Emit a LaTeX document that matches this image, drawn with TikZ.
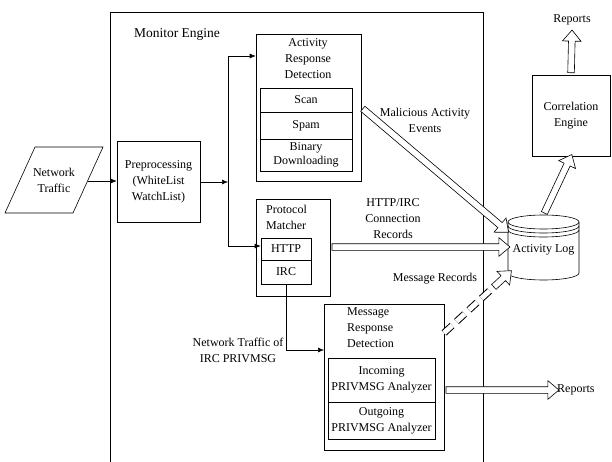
\documentclass[tikz,border=0pt]{standalone}
\usepackage{fontspec}
\setmainfont{Liberation Serif}
\usepackage{tikz}
\usetikzlibrary{positioning, calc, arrows.meta, shapes.arrows}

\tikzset{
  box/.style={draw, line width=0.6pt, inner sep=0pt, align=center},
  lbl/.style={align=center, inner sep=0pt},
  flow/.style={line width=0.6pt, -{Latex[length=6pt,width=5pt]}},
  fatshape/.style={single arrow, draw, fill=white, line width=0.6pt, inner xsep=0pt,
    inner ysep=3pt, single arrow head extend=6pt, single arrow tip angle=80},
}
\newcommand{\fatarrow}[3][]{%
  \path let \p1=($#3-#2$), \n1={atan2(\y1,\x1)}, \n2={veclen(\x1,\y1)} in
    node[fatshape, rotate=\n1, minimum height=\n2, #1] at ($#2!0.5!#3$) {};}

\begin{document}
\begin{tikzpicture}[x=1pt, y=-1pt, font=\fontsize{12}{16}\selectfont]
\useasboundingbox (0,0) rectangle (612,462);

% monitor engine frame
\draw[line width=0.6pt] (110,462) -- (110,12) -- (483,12) -- (483,462);
\node[lbl, font=\fontsize{13.5}{16}\selectfont] (mon) at (177,34) {Monitor Engine};

% input
\draw[line width=0.6pt] (35,147) -- (103,147) -- (73,213) -- (5,213) -- cycle;
\node[lbl] (net) at (54,180) {Network\\Traffic};
\coordinate (netR) at (88,181);
\node[box, minimum width=83, minimum height=81] (pre) at (158.5,181.5) {Preprocessing\\(WhiteList\\WatchList)};

% activity response detection
\node[box, minimum width=105, minimum height=147] (act) at (308.5,107.5) {};
\node[lbl] (actT) at (308,59) {Activity\\Response\\Detection};
\node[box, minimum width=92, minimum height=24] (scan) at (306,100) {Scan};
\node[box, minimum width=92, minimum height=27] (spam) at (306,125.5) {Spam};
\node[box, minimum width=92, minimum height=32, font=\fontsize{12}{14}\selectfont] (bin) at (306,155) {Binary\\Downloading};

% protocol matcher
\node[box, minimum width=74, minimum height=97] (proto) at (293,247.5) {};
\node[lbl, anchor=west, align=left] (protoT) at (266,217) {Protocol\\Matcher};
\node[box, minimum width=50, minimum height=22] (http) at (286,249) {HTTP};
\node[box, minimum width=50, minimum height=24] (irc) at (286,272) {IRC};

% message response detection
\node[box, minimum width=120, minimum height=146] (msg) at (384,377) {};
\node[lbl, anchor=west, align=left] (msgT) at (347,328) {Message\\Response\\Detection};
\node[box, minimum width=107, minimum height=44] (inc) at (381.5,380) {Incoming\\PRIVMSG Analyzer};
\node[box, minimum width=107, minimum height=37] (out) at (381.5,420.5) {Outgoing\\PRIVMSG Analyzer};

% activity log
\draw[line width=0.6pt, fill=white] (508,222) -- (508,273) arc[start angle=180, end angle=0, x radius=35.5, y radius=7] -- (579,222);
\draw[line width=0.6pt] (543.5,222) ellipse [x radius=35.5, y radius=7];
\draw[line width=0.6pt] (508,226) arc[start angle=180, end angle=0, x radius=35.5, y radius=7];
\draw[line width=0.6pt] (508,230) arc[start angle=180, end angle=0, x radius=35.5, y radius=7];
\node[lbl, minimum width=71, minimum height=65] (log) at (543.5,247.5) {\raisebox{-12pt}{Activity Log}};

% correlation engine
\node[box, minimum width=78, minimum height=81] (corr) at (571,115.5) {Correlation\\Engine};
\node[lbl] (rep2) at (572,20) {Reports};
\node[lbl, anchor=west] (rep1) at (557,390) {Reports};

% single arrows
\coordinate (split) at (228,182);
\coordinate (splitT) at (228,56);
\coordinate (splitB) at (228,246);
\coordinate (msgin) at (324,350);
\draw[flow] (netR) -- (pre.west |- netR);
\draw[flow] (pre.east |- split) -- (split);
\draw[line width=0.6pt] (splitT) -- (splitB);
\draw[flow] (splitT) -- (splitT -| act.west);
\draw[flow] (splitB) -- (splitB -| http.west);
\draw[flow] (irc.south) |- (msgin);
\node[lbl] (ircL) at (238,350) {Network Traffic of\\IRC PRIVMSG};

% fat arrows
\coordinate (logTL) at (507,231);
\coordinate (logBL) at (510,272);
\coordinate (conS) at (330,247);
\coordinate (conE) at (508,247);
\coordinate (msgR) at (444,333);
\coordinate (msgRep) at (444,390);
\coordinate (corrUp) at (572,32);
\coordinate (recM) at ($(logBL)!24pt!(msgR)$);
\fatarrow{(act.east)}{(logTL)}
\node[lbl] (malL) at (425,120) {Malicious Activity\\Events};
\fatarrow{(conS)}{(conE)}
\node[lbl] (conL) at (393,219) {HTTP/IRC\\Connection\\Records};
\draw[double, double distance=5pt, line width=1pt, dash pattern=on 11pt off 6pt] (msgR) -- (recM);
\fatarrow{(recM)}{(logBL)}
\node[lbl] (recL) at (435,279) {Message Records};
\fatarrow{(msgRep)}{(rep1.west)}
\fatarrow{(log.north)}{(corr.south)}
\fatarrow{(corr.north)}{(corrUp)}

\end{tikzpicture}
\end{document}
